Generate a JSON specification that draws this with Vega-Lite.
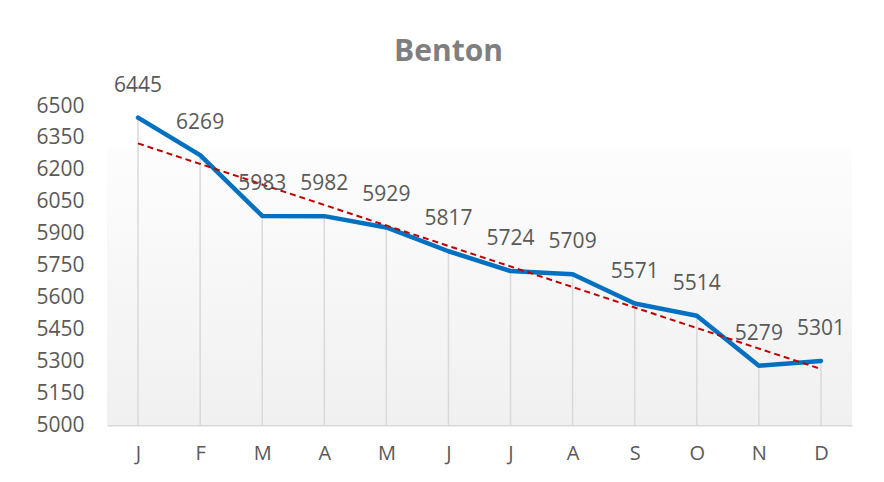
{
  "$schema": "https://vega.github.io/schema/vega-lite/v6.json",
  "width": 745,
  "height": 319,
  "autosize": "none",
  "padding": {"left": 107, "top": 106, "right": 32, "bottom": 57},
  "background": "white",
  "title": {
    "text": "Benton",
    "font": "Open Sans",
    "fontSize": 30,
    "fontWeight": "bold",
    "color": "#7f7f7f",
    "anchor": "middle",
    "dx": -31,
    "offset": 8
  },
  "config": {
    "view": {"stroke": null},
    "font": "Open Sans"
  },
  "data": {
    "values": [
      {"i": 1, "m": "J", "v": 6445},
      {"i": 2, "m": "F", "v": 6269},
      {"i": 3, "m": "M", "v": 5983},
      {"i": 4, "m": "A", "v": 5982},
      {"i": 5, "m": "M", "v": 5929},
      {"i": 6, "m": "J", "v": 5817},
      {"i": 7, "m": "J", "v": 5724},
      {"i": 8, "m": "A", "v": 5709},
      {"i": 9, "m": "S", "v": 5571},
      {"i": 10, "m": "O", "v": 5514},
      {"i": 11, "m": "N", "v": 5279},
      {"i": 12, "m": "D", "v": 5301}
    ]
  },
  "encoding": {
    "x": {
      "field": "i",
      "type": "quantitative",
      "scale": {"domain": [0.5, 12.5], "nice": false, "zero": false},
      "axis": {
        "title": null,
        "values": [1, 2, 3, 4, 5, 6, 7, 8, 9, 10, 11, 12],
        "labelExpr": "['J','F','M','A','M','J','J','A','S','O','N','D'][datum.value-1]",
        "grid": false,
        "ticks": false,
        "domainColor": "#d9d9d9",
        "domainWidth": 2,
        "labelFontSize": 20,
        "labelColor": "#595959",
        "labelPadding": 18,
        "labelFont": "Open Sans"
      }
    },
    "y": {
      "field": "v",
      "type": "quantitative",
      "scale": {"domain": [5000, 6500], "nice": false, "zero": false},
      "axis": {
        "title": null,
        "format": "d",
        "values": [5000, 5150, 5300, 5450, 5600, 5750, 5900, 6050, 6200, 6350, 6500],
        "grid": false,
        "ticks": false,
        "domain": false,
        "labelFontSize": 21,
        "labelColor": "#595959",
        "labelPadding": 23,
        "labelFont": "Open Sans"
      }
    }
  },
  "layer": [
    {
      "mark": {
        "type": "rect",
        "fill": {
          "gradient": "linear",
          "x1": 0, "y1": 0, "x2": 0, "y2": 1,
          "stops": [
            {"offset": 0, "color": "#fdfdfd"},
            {"offset": 1, "color": "#f0f0f0"}
          ]
        }
      },
      "encoding": {
        "x": {"datum": 0.5, "type": "quantitative"},
        "x2": {"datum": 12.5},
        "y": {"datum": 5000, "type": "quantitative"},
        "y2": {"datum": 6300}
      }
    },
    {
      "mark": {"type": "rule", "color": "#d9d9d9", "strokeWidth": 1.5},
      "encoding": {
        "y2": {"datum": 5000}
      }
    },
    {
      "mark": {"type": "line", "color": "#0070C0", "strokeWidth": 4.5, "strokeJoin": "round", "strokeCap": "round"}
    },
    {
      "transform": [{"regression": "v", "on": "i", "extent": [1, 12]}],
      "mark": {"type": "line", "color": "#C00000", "strokeWidth": 2, "strokeDash": [6, 4]}
    },
    {
      "mark": {"type": "text", "dy": -32, "fontSize": 21, "color": "#595959", "font": "Open Sans"},
      "encoding": {
        "text": {"field": "v", "type": "quantitative", "format": "d"}
      }
    }
  ]
}
